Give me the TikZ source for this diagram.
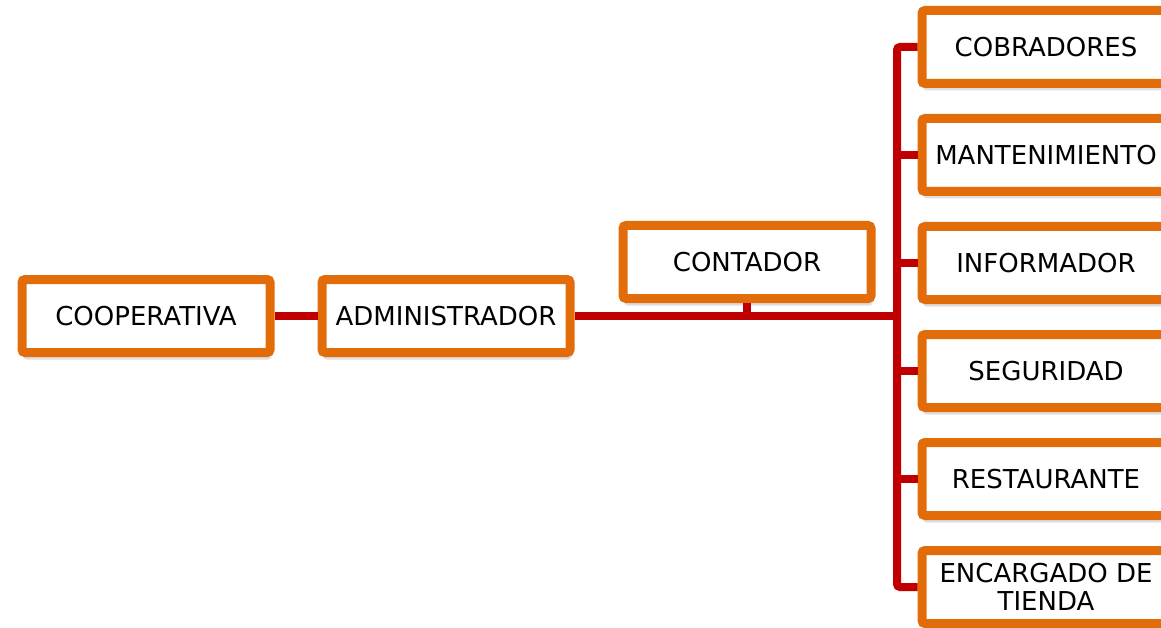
\documentclass[tikz,border=0pt]{standalone}
\usepackage{fontspec}
\setmainfont{DejaVu Sans}
\usetikzlibrary{positioning, shadows}
\definecolor{boxorange}{RGB}{227,108,10}
\definecolor{linered}{RGB}{192,0,0}
\tikzset{
    cargo/.style={draw=boxorange, line width=9pt, fill=white, rounded corners=3pt,
        minimum width=248pt, minimum height=73pt, inner sep=2pt, align=center,
        font=\fontsize{26}{28}\selectfont,
        drop shadow={shadow xshift=1.5pt, shadow yshift=-7pt, opacity=0.25}},
    enlace/.style={draw=linered, line width=8pt},
}
\begin{document}
\begin{tikzpicture}[x=1pt, y=-1pt]
            \useasboundingbox (0,0) rectangle (1161,628);
            % Direccion
            \node[cargo] (coop) at (146,316) {COOPERATIVA};
            \node[cargo, right=43pt of coop] (admin) {ADMINISTRADOR};
            \node[cargo] (cont) at (747,262) {CONTADOR};

            % Areas
            \node[cargo] (cob) at (1046,47) {COBRADORES};
            \node[cargo, below=26pt of cob] (mant) {MANTENIMIENTO};
            \node[cargo, below=26pt of mant] (inf) {INFORMADOR};
            \node[cargo, below=26pt of inf] (seg) {SEGURIDAD};
            \node[cargo, below=26pt of seg] (rest) {RESTAURANTE};
            \node[cargo, below=26pt of rest] (enc) {ENCARGADO DE\\TIENDA};

            % Relationships
            \coordinate (bus) at (897,316);
            \draw[enlace] (coop) -- (admin);
            \draw[enlace] (admin) -- (bus);
            \draw[enlace] (cont) -- (cont |- bus);
            \draw[enlace, rounded corners=3pt] (cob.west) -| (bus) |- (enc.west);
            \foreach \n in {mant, inf, seg, rest}
                \draw[enlace] (\n.west) -- (\n.west -| bus);

        \end{tikzpicture}
\end{document}
